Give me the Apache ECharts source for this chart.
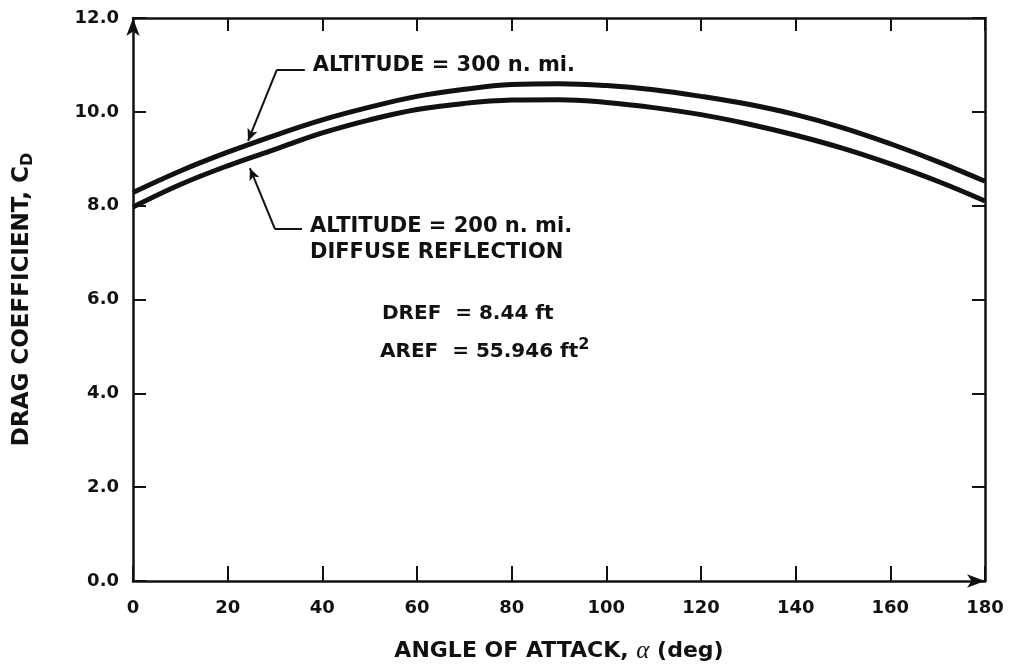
<!DOCTYPE html>
<html>
<head>
<meta charset="utf-8">
<script src="https://cdn.jsdelivr.net/npm/echarts@6/dist/echarts.min.js"></script>
<style>
  html, body { margin: 0; padding: 0; background: #fff; }
  #chart { width: 1010px; height: 669px; }
</style>
</head>
<body>
<div id="chart"></div>
<script>
// Angle of attack (deg)
const angles = [0, 10, 20, 30, 40, 50, 60, 70, 80, 90, 100, 110, 120, 130, 140, 150, 160, 170, 180];
// Drag coefficient, altitude 300 n. mi.
const cd300 = [8.28, 8.74, 9.14, 9.50, 9.83, 10.10, 10.33, 10.48, 10.58, 10.60, 10.56, 10.47, 10.33, 10.16, 9.94, 9.66, 9.32, 8.94, 8.52];
// Drag coefficient, altitude 200 n. mi.
const cd200 = [7.97, 8.45, 8.85, 9.20, 9.55, 9.83, 10.05, 10.18, 10.25, 10.26, 10.20, 10.09, 9.94, 9.74, 9.50, 9.22, 8.89, 8.52, 8.10];

const xMin = 0, xMax = 180, xStep = 20;
const yMin = 0, yMax = 12, yStep = 2;

const INK = '#111';
const FONT = 'DejaVu Sans';

const chart = echarts.init(document.getElementById('chart'), null, { renderer: 'canvas' });

const pairs = (ys) => angles.map((a, i) => [a, ys[i]]);

// Leader lines for the curve callouts, in data coordinates
const leaders = [
  [{ coord: [36.3, 10.90], symbol: 'none' }, { coord: [30.4, 10.90], symbol: 'none' }],
  [{ coord: [30.4, 10.90], symbol: 'none' }, { coord: [24.3, 9.38], symbol: 'arrow' }],
  [{ coord: [35.7, 7.50], symbol: 'none' }, { coord: [30.0, 7.50], symbol: 'none' }],
  [{ coord: [30.0, 7.50], symbol: 'none' }, { coord: [24.7, 8.80], symbol: 'arrow' }]
];

const baseAxisLabel = { fontFamily: FONT, fontWeight: 'bold', fontSize: 18, color: INK };
const frameLine = { show: true, onZero: false, lineStyle: { color: INK, width: 2.5 } };

chart.setOption({
  animation: false,
  backgroundColor: '#fff',
  grid: { left: 133, right: 25, top: 18, bottom: 84 },
  xAxis: [
    {
      type: 'value', position: 'bottom', min: xMin, max: xMax, interval: xStep,
      axisLine: Object.assign({}, frameLine, { symbol: ['none', 'arrow'], symbolSize: [10, 18] }),
      axisTick: { show: true, inside: true, length: 15, lineStyle: { color: INK, width: 2 } },
      axisLabel: Object.assign({ margin: 18 }, baseAxisLabel),
      splitLine: { show: false },
      name: 'ANGLE OF ATTACK, {al|α} (deg)',
      nameLocation: 'middle', nameGap: 58,
      nameTextStyle: {
        fontFamily: FONT, fontWeight: 'bold', fontSize: 22, color: INK,
        rich: { al: { fontFamily: 'Liberation Serif', fontStyle: 'italic', fontWeight: 'normal', fontSize: 25, color: INK } }
      }
    },
    {
      type: 'value', position: 'top', min: xMin, max: xMax, interval: xStep,
      axisLine: frameLine,
      axisTick: { show: true, inside: true, length: 13, lineStyle: { color: INK, width: 2 } },
      axisLabel: { show: false },
      splitLine: { show: false }
    }
  ],
  yAxis: [
    {
      type: 'value', position: 'left', min: yMin, max: yMax, interval: yStep,
      axisLine: Object.assign({}, frameLine, { symbol: ['none', 'arrow'], symbolSize: [10, 18] }),
      axisTick: { show: true, inside: true, length: 13, lineStyle: { color: INK, width: 2 } },
      axisLabel: Object.assign({ margin: 14, formatter: (v) => v.toFixed(1) }, baseAxisLabel),
      splitLine: { show: false },
      name: 'DRAG COEFFICIENT, C{sub|D}',
      nameLocation: 'middle', nameGap: 97, nameRotate: 90,
      nameTextStyle: {
        fontFamily: FONT, fontWeight: 'bold', fontSize: 23, color: INK,
        rich: { sub: { fontFamily: FONT, fontWeight: 'bold', fontSize: 16, color: INK, padding: [12, 0, 0, 0] } }
      }
    },
    {
      type: 'value', position: 'right', min: yMin, max: yMax, interval: yStep,
      axisLine: frameLine,
      axisTick: { show: true, inside: true, length: 13, lineStyle: { color: INK, width: 2 } },
      axisLabel: { show: false },
      splitLine: { show: false }
    }
  ],
  series: [
    {
      name: 'ALTITUDE = 300 n. mi.', type: 'line', smooth: 0.4, showSymbol: false, silent: true,
      data: pairs(cd300),
      lineStyle: { color: INK, width: 5 },
      markLine: {
        silent: true, symbolSize: [8, 12], animation: false,
        label: { show: false },
        lineStyle: { color: INK, width: 2, type: 'solid' },
        emphasis: { disabled: true },
        data: leaders
      }
    },
    {
      name: 'ALTITUDE = 200 n. mi.', type: 'line', smooth: 0.4, showSymbol: false, silent: true,
      data: pairs(cd200),
      lineStyle: { color: INK, width: 5 }
    }
  ]
});

// Callout and reference-dimension text, anchored in data coordinates
const notes = [
  { at: [38.0, 10.99], text: 'ALTITUDE = 300 n. mi.', size: 21 },
  { at: [37.4, 7.56], text: 'ALTITUDE = 200 n. mi.', size: 21 },
  { at: [37.4, 7.01], text: 'DIFFUSE REFLECTION', size: 21 },
  { at: [52.6, 5.70], text: 'DREF  = 8.44 ft', size: 20 },
  { at: [52.2, 4.88], text: 'AREF  = 55.946 ft{sup|2}', size: 20 }
];

const graphics = notes.map((n) => {
  const p = chart.convertToPixel({ gridIndex: 0 }, n.at);
  return {
    type: 'text', x: p[0], y: p[1], silent: true,
    style: {
      text: n.text, fill: INK, font: 'bold ' + n.size + 'px "DejaVu Sans"',
      textVerticalAlign: 'middle', textAlign: 'left',
      rich: { sup: { fontFamily: FONT, fontWeight: 'bold', fontSize: 16, fill: INK, padding: [0, 0, 14, 0] } }
    }
  };
});

chart.setOption({ graphic: graphics });
</script>
</body>
</html>
